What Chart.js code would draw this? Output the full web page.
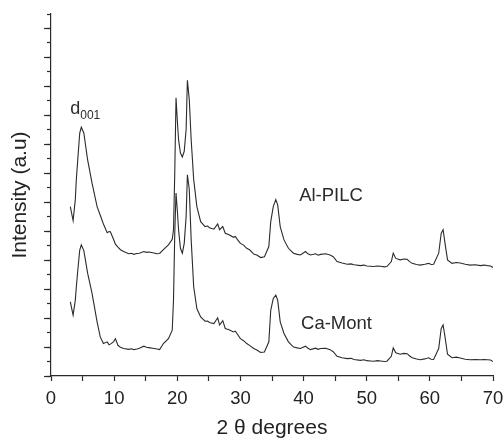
<!DOCTYPE html>
<html>
<head>
<meta charset="utf-8">
<script src="https://cdn.jsdelivr.net/npm/chart.js@4.4.1/dist/chart.umd.min.js"></script>
<style>
  html, body { margin: 0; padding: 0; background: #fff; }
  #wrap { width: 504px; height: 438px; }
</style>
</head>
<body>
<div id="wrap"><canvas id="myChart"></canvas></div>
<script>
// 2-theta positions (degrees)
const twoTheta = [3.06, 3.5, 3.85, 4.0, 4.2, 4.55, 4.8, 5.2, 5.8, 6.5, 7.3, 7.8, 8.3, 8.9, 9.2, 9.4, 9.9, 10.2, 10.6, 11.0, 11.5, 12.3, 12.8, 13.1, 13.6, 14.0, 14.7, 15.1, 15.5, 16.3, 16.8, 17.2, 17.8, 18.6, 19.2, 19.4, 19.6, 19.8, 20.0, 20.2, 20.5, 20.8, 21.1, 21.4, 21.6, 21.9, 22.2, 22.6, 23.1, 23.7, 24.4, 24.8, 25.1, 25.8, 26.4, 26.7, 27.2, 27.6, 28.2, 28.9, 29.2, 29.5, 30.0, 30.5, 31.0, 31.5, 32.1, 32.6, 33.2, 33.8, 34.5, 34.8, 35.2, 35.6, 35.9, 36.3, 36.9, 37.6, 38.4, 39.0, 39.5, 40.3, 40.7, 41.1, 41.9, 42.3, 42.7, 43.5, 44.2, 44.7, 45.3, 46.1, 46.9, 47.5, 48.0, 49.0, 49.6, 50.0, 50.6, 51.1, 51.7, 52.2, 52.8, 53.2, 53.9, 54.2, 54.6, 55.3, 55.9, 56.4, 56.8, 57.2, 57.9, 58.5, 59.2, 59.8, 60.2, 60.6, 61.4, 61.8, 62.1, 62.4, 62.8, 63.5, 64.2, 64.8, 65.6, 66.4, 67.2, 68.0, 68.6, 69.1, 69.6, 70.0];

// Al-PILC trace (arbitrary units, stacked above)
const alPilc = [5.85, 5.37, 6.09, 6.75, 7.36, 8.39, 8.59, 8.39, 7.46, 6.66, 5.85, 5.55, 5.25, 4.95, 4.99, 4.98, 4.72, 4.55, 4.45, 4.36, 4.30, 4.22, 4.24, 4.20, 4.23, 4.24, 4.30, 4.27, 4.28, 4.25, 4.22, 4.23, 4.36, 4.53, 4.72, 5.05, 7.01, 9.61, 8.85, 8.16, 7.70, 7.56, 7.76, 8.51, 10.21, 9.55, 8.16, 6.78, 5.85, 5.33, 5.16, 5.18, 5.12, 5.07, 5.25, 5.05, 5.16, 4.93, 4.88, 4.79, 4.82, 4.72, 4.58, 4.52, 4.41, 4.35, 4.21, 4.18, 4.09, 4.12, 4.47, 5.33, 5.85, 6.09, 5.91, 5.16, 4.70, 4.41, 4.24, 4.20, 4.18, 4.30, 4.22, 4.18, 4.22, 4.17, 4.20, 4.22, 4.18, 4.12, 3.95, 3.90, 3.86, 3.87, 3.84, 3.81, 3.83, 3.80, 3.79, 3.78, 3.80, 3.79, 3.77, 3.78, 3.95, 4.24, 4.06, 4.01, 4.04, 4.03, 3.95, 3.89, 3.85, 3.83, 3.86, 3.89, 3.85, 3.86, 4.24, 4.93, 5.05, 4.58, 4.01, 3.89, 3.92, 3.90, 3.86, 3.83, 3.84, 3.81, 3.83, 3.81, 3.80, 3.75];

// Ca-Mont trace
const caMont = [2.56, 2.10, 2.62, 3.05, 3.55, 4.35, 4.53, 4.33, 3.55, 2.85, 1.87, 1.35, 1.12, 1.18, 1.08, 1.10, 1.18, 1.29, 1.06, 0.99, 0.95, 0.92, 0.94, 0.91, 0.93, 0.96, 1.03, 0.99, 0.98, 0.95, 0.93, 0.91, 1.12, 1.29, 1.58, 2.62, 4.93, 6.32, 5.74, 5.05, 4.41, 4.24, 4.58, 5.51, 6.95, 6.44, 4.70, 3.08, 2.33, 2.04, 1.89, 1.90, 1.85, 1.81, 2.01, 1.76, 1.91, 1.64, 1.60, 1.52, 1.55, 1.45, 1.29, 1.22, 1.12, 1.05, 0.95, 0.90, 0.81, 0.83, 1.18, 2.27, 2.68, 2.79, 2.62, 1.87, 1.47, 1.18, 1.00, 0.97, 0.95, 1.03, 0.96, 0.91, 0.96, 0.92, 0.95, 0.96, 0.91, 0.84, 0.68, 0.63, 0.60, 0.61, 0.57, 0.54, 0.56, 0.53, 0.52, 0.51, 0.53, 0.52, 0.50, 0.51, 0.68, 0.97, 0.80, 0.75, 0.78, 0.77, 0.69, 0.63, 0.59, 0.56, 0.59, 0.63, 0.58, 0.57, 0.95, 1.64, 1.76, 1.35, 0.75, 0.63, 0.65, 0.62, 0.58, 0.56, 0.57, 0.56, 0.57, 0.56, 0.55, 0.50];

const seriesNames = ['Al-PILC', 'Ca-Mont'];

const FONT = "'Liberation Sans', Arial, Helvetica, sans-serif";
const INK = '#2b2b2b';

// text labels drawn in data coordinates
const labelPlugin = {
  id: 'labels',
  afterDatasetsDraw(chart) {
    const { ctx, scales: { x, y } } = chart;
    ctx.save();
    ctx.fillStyle = INK;
    ctx.textAlign = 'left';
    ctx.textBaseline = 'alphabetic';
    ctx.font = '18px ' + FONT;
    const dx = x.getPixelForValue(3.05), dy = y.getPixelForValue(9.03);
    ctx.fillText('d', dx, dy);
    const w = ctx.measureText('d').width;
    ctx.font = '12px ' + FONT;
    ctx.fillText('001', dx + w, dy + 5);
    ctx.font = '18.5px ' + FONT;
    ctx.fillText(seriesNames[0], x.getPixelForValue(39.3), y.getPixelForValue(6.06));
    ctx.fillText(seriesNames[1], x.getPixelForValue(39.6), y.getPixelForValue(1.62));
    ctx.restore();
  }
};

const toPoints = (ys) => twoTheta.map((t, i) => ({ x: t, y: ys[i] }));

new Chart(document.getElementById('myChart'), {
  type: 'scatter',
  data: {
    datasets: [
      { label: seriesNames[0], data: toPoints(alPilc) },
      { label: seriesNames[1], data: toPoints(caMont) }
    ]
  },
  options: {
    animation: false,
    responsive: true,
    maintainAspectRatio: false,
    showLine: true,
    layout: { padding: { top: 14, left: 0, right: 0, bottom: 0 } },
    elements: {
      point: { radius: 0, hoverRadius: 0 },
      line: { borderColor: INK, borderWidth: 1.1, tension: 0 }
    },
    plugins: {
      legend: { display: false },
      tooltip: { enabled: false }
    },
    scales: {
      x: {
        type: 'linear',
        position: 'bottom',
        min: 0,
        max: 70,
        afterFit: (s) => { s.height = 62; s.paddingRight = 11; },
        border: { color: INK, width: 1.2 },
        grid: { drawOnChartArea: false, tickLength: 5, tickColor: INK, tickWidth: 1.2 },
        ticks: {
          stepSize: 5,
          padding: 7,
          color: '#222',
          font: { family: FONT, size: 18.5 },
          maxRotation: 0,
          callback: (v) => (v % 10 === 0 ? v : '')
        },
        title: {
          display: true,
          text: '2 θ degrees',
          color: '#222',
          font: { family: FONT, size: 21, lineHeight: 1 },
          padding: { top: 0, bottom: -1 }
        }
      },
      y: {
        type: 'linear',
        position: 'left',
        min: 0,
        max: 12.5,
        afterFit: (s) => { s.width = 51; },
        border: { color: INK, width: 1.2 },
        grid: { drawOnChartArea: false, tickLength: 7, tickColor: INK, tickWidth: 1.2 },
        ticks: { stepSize: 1, display: false, includeBounds: false },
        title: {
          display: true,
          text: 'Intensity (a.u)',
          color: '#222',
          font: { family: FONT, size: 21, lineHeight: 1 },
          padding: { top: 10, bottom: 0 }
        }
      },
      yMinor: {
        type: 'linear',
        position: { x: 0 },
        min: 0,
        max: 12.5,
        border: { display: false },
        grid: { drawOnChartArea: false, tickLength: 4, tickColor: INK, tickWidth: 1.2 },
        ticks: { stepSize: 0.5, display: false }
      }
    }
  },
  plugins: [labelPlugin]
});
</script>
</body>
</html>
